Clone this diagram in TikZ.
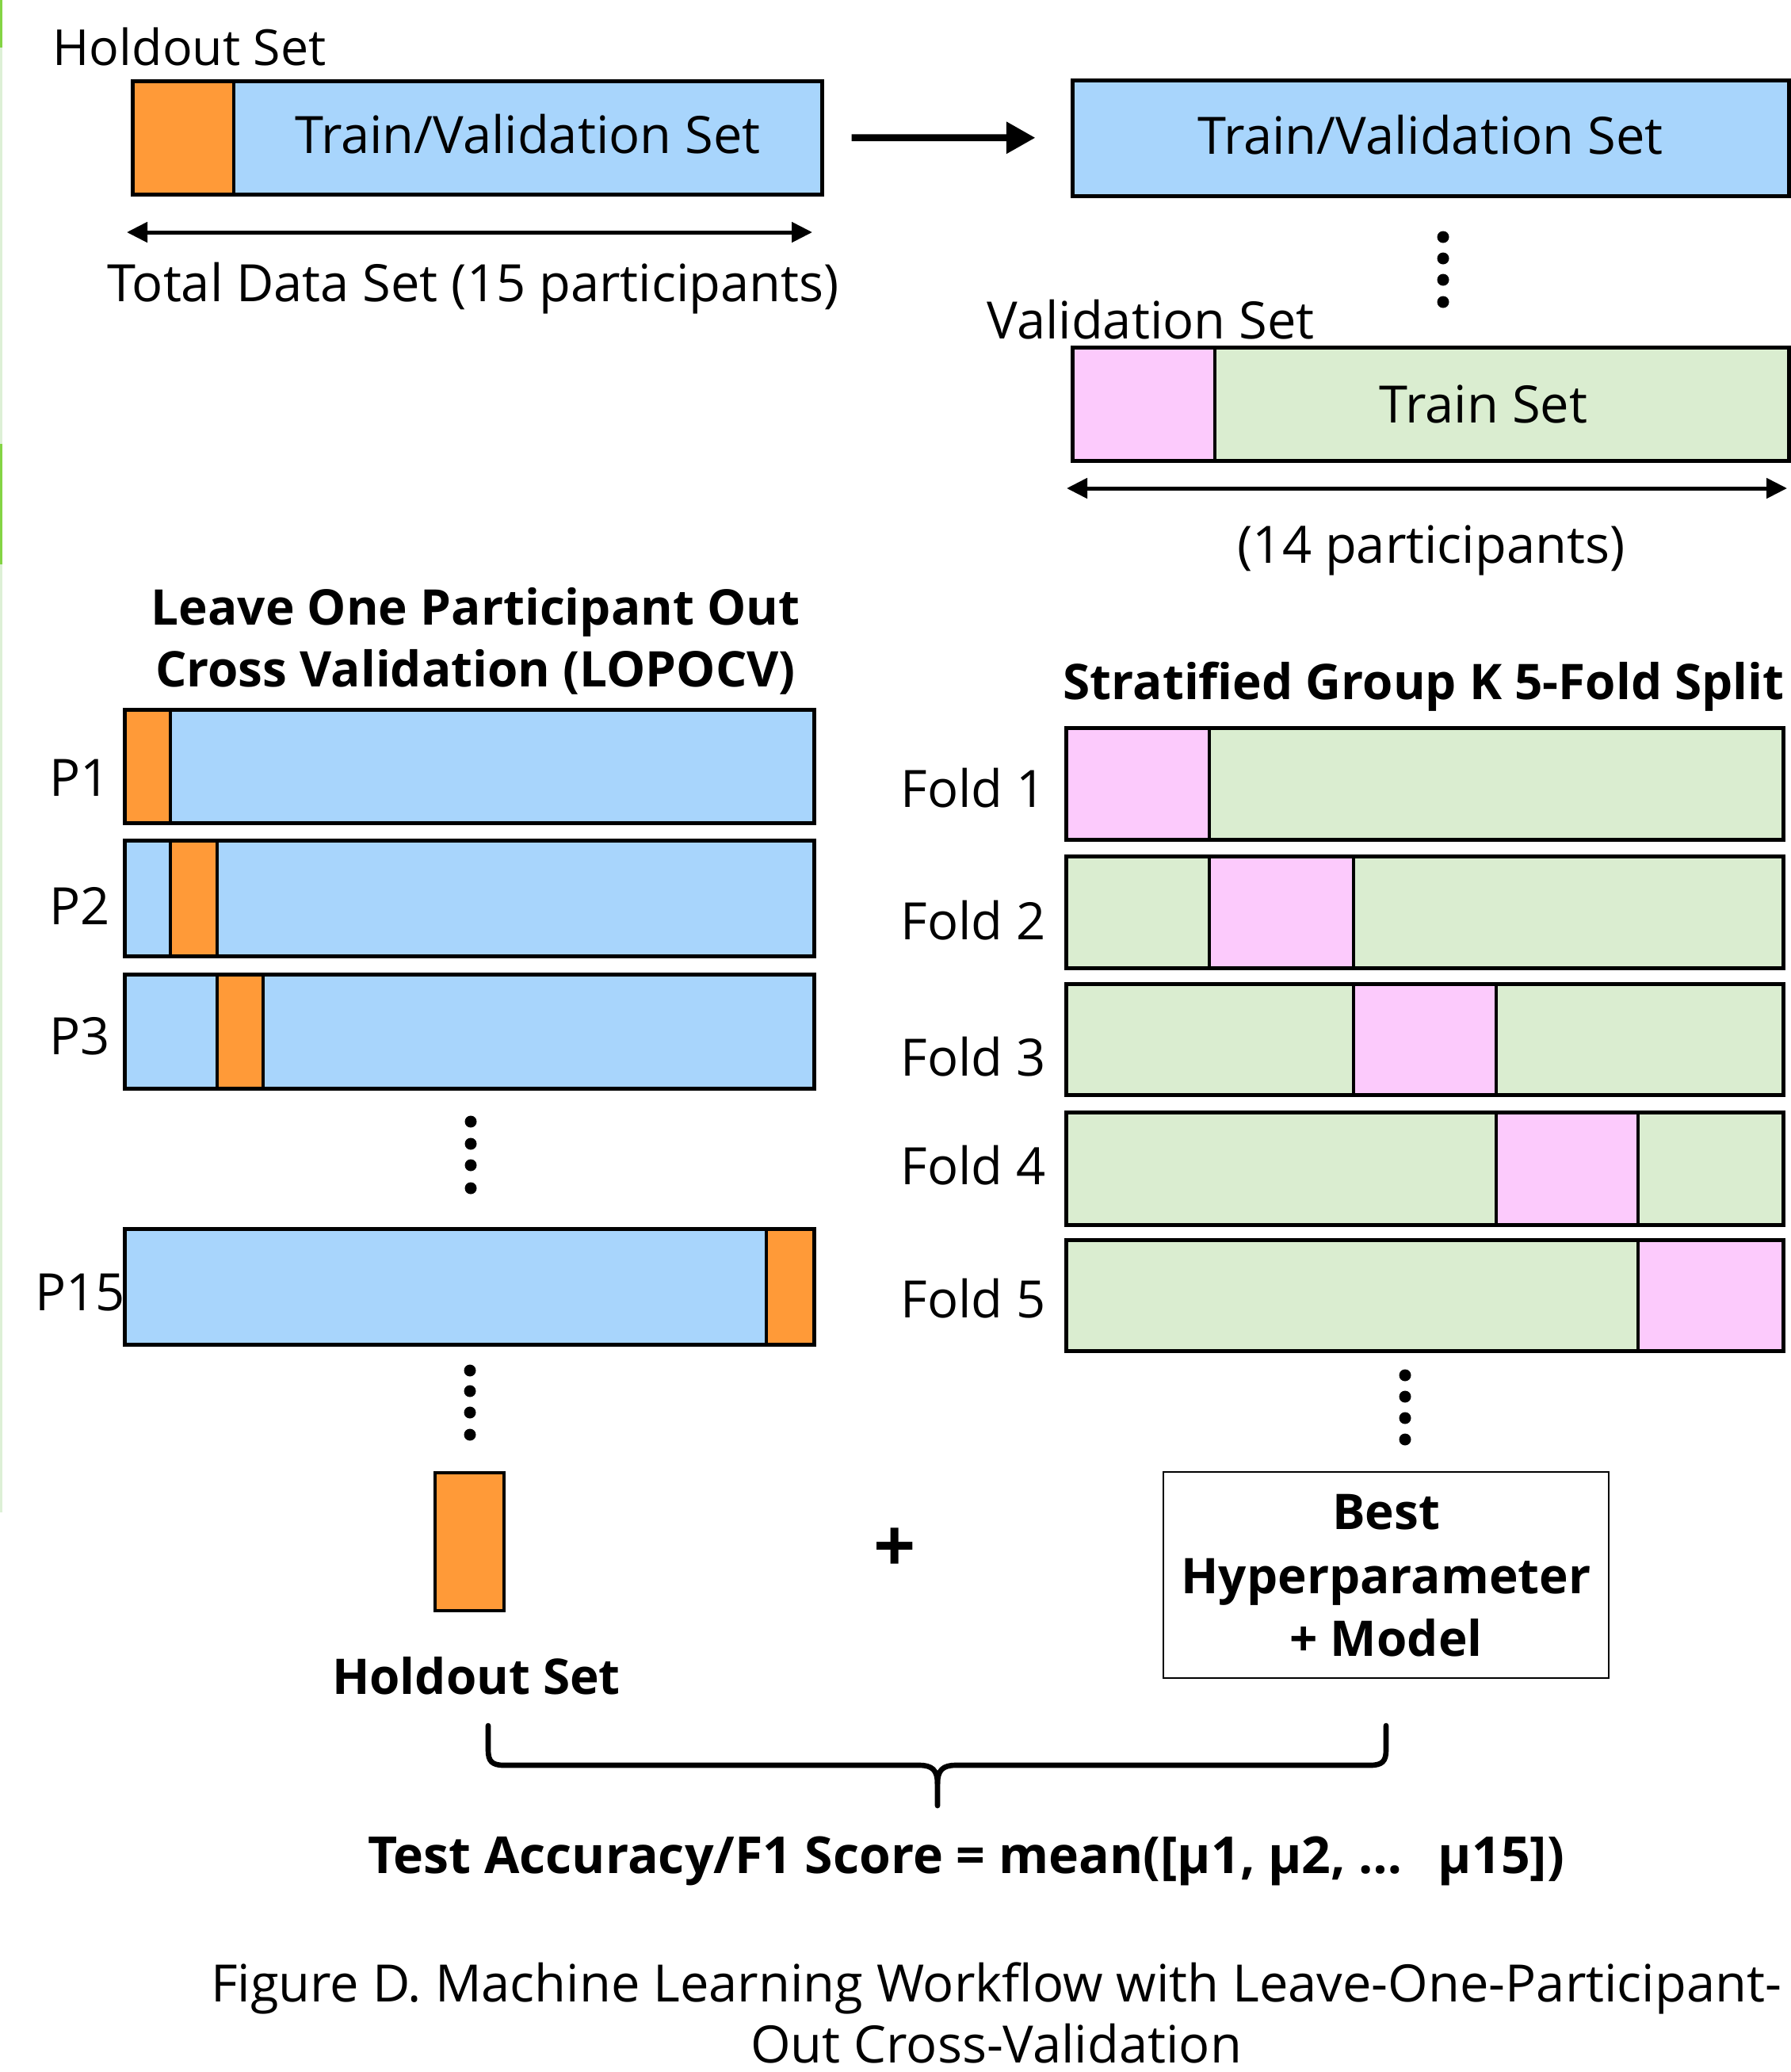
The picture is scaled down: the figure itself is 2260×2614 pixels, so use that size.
\documentclass[tikz,border=0pt]{standalone}
\usepackage{fontspec}
\setmainfont{Open Sans}
\usetikzlibrary{arrows.meta,fit}

\definecolor{setblue}{HTML}{A8D5FC}
\definecolor{holdorange}{HTML}{FF9A38}
\definecolor{valpink}{HTML}{FCCAFC}
\definecolor{trainsgreen}{HTML}{DAEDD0}
\definecolor{stripgreen}{HTML}{DDF0D6}
\definecolor{stripbright}{HTML}{84D444}

\begin{document}
\begin{tikzpicture}[x=0.3pt,y=-0.3pt,
  boxframe/.style={draw=black, line width=1.5pt, inner sep=0pt},
  thinframe/.style={draw=black, line width=0.6pt, inner sep=0pt},
  divider/.style={draw=black, line width=1.1pt},
  txt/.style={font=\fontsize{19.5}{23}\selectfont, inner sep=0pt, anchor=base},
  btxt/.style={font=\fontsize{18.6}{23}\selectfont\bfseries, inner sep=0pt, anchor=base},
  spanarrow/.style={line width=1.5pt, {Triangle[length=7.8pt,width=7.5pt]}-{Triangle[length=7.8pt,width=7.5pt]}},
  flowarrow/.style={line width=2.6pt, -{Triangle[length=11pt,width=11.5pt]}},
  bracestroke/.style={line width=2pt, line cap=round, line join=round},
]
\useasboundingbox (0,0) rectangle (2260,2614);

% thin coloured strip along the left edge
\fill[stripgreen] (0,0) rectangle (3.5,1908);
\fill[stripbright] (0,0) rectangle (3.5,60);
\fill[stripbright] (0,560) rectangle (3.5,712);

% ---------- total data set ----------
\fill[setblue] (167,102) rectangle (1037,245);
\fill[holdorange] (167,102) rectangle (295,245);
\draw[divider] (295,102) -- (295,245);
\node[boxframe, fit={(167,102) (1037,245)}] (total) {};
\node[txt, anchor=base west, font=\fontsize{18.8}{23}\selectfont] (holdtop) at (66,82) {Holdout Set};
\node[txt] (tvleft) at (666,193) {Train/Validation Set};
\coordinate (totL) at (160,293);
\coordinate (totR) at (1025,293);
\draw[spanarrow] (totL) -- (totR);
\node[txt] (totlabel) at (597,380) {Total Data Set (15 participants)};

% ---------- train/validation set ----------
\fill[setblue] (1353,101) rectangle (2257,247);
\node[boxframe, fit={(1353,101) (2257,247)}] (tvright) {};
\node[txt] (tvrtext) at (1805,194) {Train/Validation Set};
\draw[flowarrow, shorten <=10.5pt, shorten >=13.2pt] (total) -- (tvright);

\foreach \yy in {299,326,353,381} \fill (1821,\yy) circle[radius=2.25pt];

\node[txt, anchor=base west] (vallabel) at (1245,427) {Validation Set};
\fill[trainsgreen] (1353,438) rectangle (2257,581);
\fill[valpink] (1353,438) rectangle (1533,581);
\draw[divider] (1533,438) -- (1533,581);
\node[boxframe, fit={(1353,438) (2257,581)}] (trainbox) {};
\node[txt] (traintext) at (1872,533) {Train Set};
\coordinate (subL) at (1346,616);
\coordinate (subR) at (2255,616);
\draw[spanarrow] (subL) -- (subR);
\node[txt] (sublabel) at (1806,710) {(14 participants)};

% ---------- leave one participant out ----------
\node[btxt] (lopo1) at (600,788) {Leave One Participant Out};
\node[btxt] (lopo2) at (600,866) {Cross Validation (LOPOCV)};

% P1
\fill[setblue] (157,895) rectangle (1027,1038);
\fill[holdorange] (157,895) rectangle (215,1038);
\draw[divider] (215,895) -- (215,1038);
\node[boxframe, fit={(157,895) (1027,1038)}] (p1) {};
\node[txt, anchor=base west] (p1l) at (62,1004) {P1};
% P2
\fill[setblue] (157,1060) rectangle (1027,1206);
\fill[holdorange] (215,1060) rectangle (274,1206);
\draw[divider] (215,1060) -- (215,1206);
\draw[divider] (274,1060) -- (274,1206);
\node[boxframe, fit={(157,1060) (1027,1206)}] (p2) {};
\node[txt, anchor=base west] (p2l) at (62,1166) {P2};
% P3
\fill[setblue] (157,1229) rectangle (1027,1373);
\fill[holdorange] (274,1229) rectangle (332,1373);
\draw[divider] (274,1229) -- (274,1373);
\draw[divider] (332,1229) -- (332,1373);
\node[boxframe, fit={(157,1229) (1027,1373)}] (p3) {};
\node[txt, anchor=base west] (p3l) at (62,1330) {P3};

\foreach \yy in {1415,1443,1470,1499} \fill (594,\yy) circle[radius=2.25pt];

% P15
\fill[setblue] (157,1550) rectangle (1027,1696);
\fill[holdorange] (967,1550) rectangle (1027,1696);
\draw[divider] (967,1550) -- (967,1696);
\node[boxframe, fit={(157,1550) (1027,1696)}] (p15) {};
\node[txt, anchor=base west] (p15l) at (44,1653) {P15};

\foreach \yy in {1729,1755,1782,1810} \fill (593,\yy) circle[radius=2.25pt];

% held-out participant
\node[draw=black, line width=1.2pt, fill=holdorange, inner sep=0pt, fit={(549,1858) (636,2032)}] (heldout) {};
\node[btxt] (heldlabel) at (601,2137) {Holdout Set};

% ---------- stratified group k-fold ----------
\node[btxt, anchor=base west] (kftitle) at (1341,882) {Stratified Group K 5-Fold Split};

\fill[trainsgreen] (1345,918) rectangle (2250,1059);
\fill[valpink] (1345,918) rectangle (1526,1059);
\draw[divider] (1526,918) -- (1526,1059);
\node[boxframe, fit={(1345,918) (2250,1059)}] (f1) {};
\node[txt, anchor=base west] (f1l) at (1136,1018) {Fold 1};

\fill[trainsgreen] (1345,1080) rectangle (2250,1221);
\fill[valpink] (1526,1080) rectangle (1708,1221);
\draw[divider] (1526,1080) -- (1526,1221);
\draw[divider] (1708,1080) -- (1708,1221);
\node[boxframe, fit={(1345,1080) (2250,1221)}] (f2) {};
\node[txt, anchor=base west] (f2l) at (1136,1185) {Fold 2};

\fill[trainsgreen] (1345,1241) rectangle (2250,1381);
\fill[valpink] (1708,1241) rectangle (1888,1381);
\draw[divider] (1708,1241) -- (1708,1381);
\draw[divider] (1888,1241) -- (1888,1381);
\node[boxframe, fit={(1345,1241) (2250,1381)}] (f3) {};
\node[txt, anchor=base west] (f3l) at (1136,1357) {Fold 3};

\fill[trainsgreen] (1345,1403) rectangle (2250,1545);
\fill[valpink] (1888,1403) rectangle (2067,1545);
\draw[divider] (1888,1403) -- (1888,1545);
\draw[divider] (2067,1403) -- (2067,1545);
\node[boxframe, fit={(1345,1403) (2250,1545)}] (f4) {};
\node[txt, anchor=base west] (f4l) at (1136,1494) {Fold 4};

\fill[trainsgreen] (1345,1564) rectangle (2250,1704);
\fill[valpink] (2067,1564) rectangle (2250,1704);
\draw[divider] (2067,1564) -- (2067,1704);
\node[boxframe, fit={(1345,1564) (2250,1704)}] (f5) {};
\node[txt, anchor=base west] (f5l) at (1136,1662) {Fold 5};

\foreach \yy in {1735,1762,1789,1816} \fill (1773,\yy) circle[radius=2.25pt];

% best model
\node[thinframe, fit={(1468,1857) (2030,2117)}] (best) {};
\node[btxt] (best1) at (1749,1929) {Best};
\node[btxt] (best2) at (1749,2010) {Hyperparameter};
\node[btxt] (best3) at (1749,2089) {+ Model};

\node[btxt, font=\fontsize{28}{30}\selectfont\bfseries] (plus) at (1129,1983) {+};

% ---------- result ----------
\coordinate (brL) at (616,2177);
\coordinate (brR) at (1749,2177);
\coordinate (brTip) at (1183,2278);
\draw[bracestroke] (brL) -- (616,2208) .. controls (616,2222) and (621,2227) .. (636,2227)
  -- (1160,2227) .. controls (1176,2227) and (1183,2233) .. (1183,2250) -- (brTip);
\draw[bracestroke] (brR) -- (1749,2208) .. controls (1749,2222) and (1744,2227) .. (1729,2227)
  -- (1206,2227) .. controls (1190,2227) and (1183,2233) .. (1183,2250);

\node[btxt, font=\fontsize{19.3}{23}\selectfont\bfseries] (score) at (1219,2363) {Test Accuracy/F1 Score = mean([μ1, μ2, …\hspace{0.7em}μ15])};

\node[txt] (cap1) at (1257,2525) {Figure D. Machine Learning Workflow with Leave-One-Participant-};
\node[txt] (cap2) at (1257,2602) {Out Cross-Validation};
\end{tikzpicture}
\end{document}
